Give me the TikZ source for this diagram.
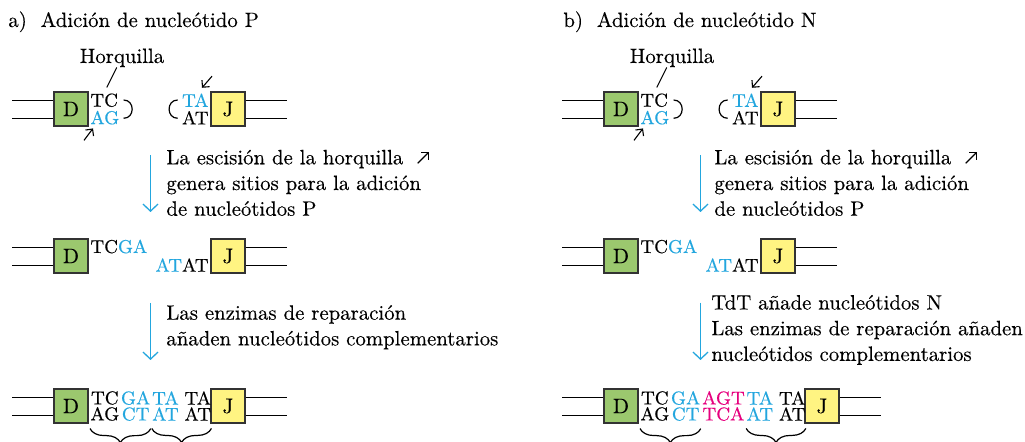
\documentclass[tikz,border=0pt]{standalone}
\usepackage{fontspec}
\setmainfont{Latin Modern Roman}[FakeBold=0.3]
\usetikzlibrary{arrows.meta, positioning, decorations.pathreplacing}
\definecolor{dnablue}{RGB}{35,166,222}
\definecolor{dnapink}{RGB}{230,0,126}
\definecolor{dgreen}{RGB}{155,200,110}
\definecolor{jyellow}{RGB}{255,244,130}

\begin{document}
\begin{tikzpicture}[x=0.5pt, y=-0.5pt,
    seg/.style={draw=black!80, line width=0.65pt, minimum width=17pt, minimum height=17pt, inner sep=0pt, font=\fontsize{10.5}{10.5}\selectfont},
    dseg/.style={seg, fill=dgreen},
    jseg/.style={seg, fill=jyellow},
    strand/.style={line width=0.6pt},
    bases/.style={inner sep=0pt, align=center, font=\fontsize{9.3}{8}\selectfont},
    hbases/.style={bases, align=left, font=\fontsize{9.3}{8.75}\selectfont},
    note/.style={inner sep=0pt, align=left, anchor=north west, font=\fontsize{10.4}{12.85}\selectfont},
    stepline/.style={dnablue, line width=0.65pt, -{Straight Barb[length=3.5pt, width=7.5pt]}},
    cut/.style={line width=0.55pt, -{Straight Barb[length=2.5pt, width=5pt]}},
    pbrace/.style={decorate, decoration={brace, mirror, amplitude=7pt}, line width=0.6pt}]
    \useasboundingbox (0,0) rectangle (1025,442);
    \clip (0,0) rectangle (1025,442);
    % a) Adicion de nucleotido P
    \node[anchor=base west, inner sep=0pt, font=\fontsize{10.4}{12}\selectfont] (titA) at (8,27) {a)~ Adición de nucleótido P};
    \node[anchor=base, inner sep=0pt, font=\fontsize{10.4}{12}\selectfont] (horqA) at (122,63) {Horquilla};
    \node[dseg] (dA1) at (71,109) {D};
    \node[jseg] (jA1) at (228,109) {J};
    \draw[strand] ([yshift=4.25pt]dA1.west) -- ++(-41,0);
    \draw[strand] ([yshift=-4.75pt]dA1.west) -- ++(-41,0);
    \draw[strand] ([yshift=4.25pt]jA1.east) -- ++(41,0);
    \draw[strand] ([yshift=-4.75pt]jA1.east) -- ++(41,0);
    \node[hbases, anchor=west] (hA1) at (90,109) {TC\\\textcolor{dnablue}{AG}};
    \node[hbases, anchor=east] (tA1) at (209,109) {\textcolor{dnablue}{TA}\\AT};
    \draw[line width=0.5pt] ([xshift=-2.6pt]horqA.south) -- ++(-10,20);
    \draw[strand] ([shift={(4,-9)}]hA1.east) to[out=0, in=0, looseness=1.6] ++(0,18.3);
    \draw[strand] ([shift={(-4,-9)}]tA1.west) to[out=180, in=180, looseness=1.6] ++(0,18.3);
    \draw[cut] ([shift={(-6,15.5)}]hA1.south west) -- ++(9,-12);
    \draw[cut] ([shift={(3,-17)}]tA1.north east) -- ++(-10,11.6);
    \coordinate (aA1) at (150.5,155);
    \coordinate (aA2) at (150.5,212);
    \draw[stepline] (aA1) -- (aA2);
    \node[note] (noteA1) at (166,149.4) {La escisión de la horquilla~ \tikz[baseline]\draw[cut] (0pt,0.5pt) -- (5.5pt,6pt);\\genera sitios para la adición\\de nucleótidos P};
    \node[dseg] (dA2) at (71,256) {D};
    \node[jseg] (jA2) at (228,256) {J};
    \draw[strand] ([yshift=4.25pt]dA2.west) -- ++(-41,0);
    \draw[strand] ([yshift=-4.75pt]dA2.west) -- ++(-41,0);
    \draw[strand] ([yshift=4.25pt]jA2.east) -- ++(41,0);
    \draw[strand] ([yshift=-4.75pt]jA2.east) -- ++(41,0);
    \node[bases, anchor=base west] (hA2) at (90,253) {TC\textcolor{dnablue}{GA}};
    \node[bases, anchor=base east] (tA2) at (209,271.7) {\textcolor{dnablue}{AT}AT};
    \coordinate (aA3) at (150.5,303);
    \coordinate (aA4) at (150.5,360);
    \draw[stepline] (aA3) -- (aA4);
    \node[note] (noteA2) at (166,304.8) {Las enzimas de reparación\\añaden nucleótidos complementarios};
    \node[dseg] (dA3) at (71,406) {D};
    \node[jseg] (jA3) at (228,406) {J};
    \draw[strand] ([yshift=4.25pt]dA3.west) -- ++(-41,0);
    \draw[strand] ([yshift=-4.75pt]dA3.west) -- ++(-41,0);
    \draw[strand] ([yshift=4.25pt]jA3.east) -- ++(41,0);
    \draw[strand] ([yshift=-4.75pt]jA3.east) -- ++(41,0);
    \node[bases, anchor=west] (pA1) at (90,406) {TC\\AG};
    \node[bases, right=0.5pt of pA1, text=dnablue] (pA2) {GA\\CT};
    \node[bases, right=0.5pt of pA2, text=dnablue] (pA3) {TA\\AT};
    \node[bases, right=2.5pt of pA3] (pA4) {TA\\AT};
    \draw[pbrace] ([yshift=-3.7pt]pA1.south west) -- ([yshift=-3.7pt]pA2.south east);
    \draw[pbrace] ([yshift=-3.7pt]pA3.south west) -- ([yshift=-3.7pt]pA4.south east);
    % b) Adicion de nucleotido N
    \node[anchor=base west, inner sep=0pt, font=\fontsize{10.4}{12}\selectfont] (titB) at (563,27) {b)~ Adición de nucleótido N};
    \node[anchor=base, inner sep=0pt, font=\fontsize{10.4}{12}\selectfont] (horqB) at (672,63) {Horquilla};
    \node[dseg] (dB1) at (621,109) {D};
    \node[jseg] (jB1) at (778,109) {J};
    \draw[strand] ([yshift=4.25pt]dB1.west) -- ++(-41,0);
    \draw[strand] ([yshift=-4.75pt]dB1.west) -- ++(-41,0);
    \draw[strand] ([yshift=4.25pt]jB1.east) -- ++(41,0);
    \draw[strand] ([yshift=-4.75pt]jB1.east) -- ++(41,0);
    \node[hbases, anchor=west] (hB1) at (640,109) {TC\\\textcolor{dnablue}{AG}};
    \node[hbases, anchor=east] (tB1) at (759,109) {\textcolor{dnablue}{TA}\\AT};
    \draw[line width=0.5pt] ([xshift=-2.6pt]horqB.south) -- ++(-10,20);
    \draw[strand] ([shift={(4,-9)}]hB1.east) to[out=0, in=0, looseness=1.6] ++(0,18.3);
    \draw[strand] ([shift={(-4,-9)}]tB1.west) to[out=180, in=180, looseness=1.6] ++(0,18.3);
    \draw[cut] ([shift={(-6,15.5)}]hB1.south west) -- ++(9,-12);
    \draw[cut] ([shift={(3,-17)}]tB1.north east) -- ++(-10,11.6);
    \coordinate (aB1) at (700.5,155);
    \coordinate (aB2) at (700.5,212);
    \draw[stepline] (aB1) -- (aB2);
    \node[note] (noteB1) at (714,149.4) {La escisión de la horquilla~ \tikz[baseline]\draw[cut] (0pt,0.5pt) -- (5.5pt,6pt);\\genera sitios para la adición\\de nucleótidos P};
    \node[dseg] (dB2) at (621,256) {D};
    \node[jseg] (jB2) at (778,256) {J};
    \draw[strand] ([yshift=4.25pt]dB2.west) -- ++(-41,0);
    \draw[strand] ([yshift=-4.75pt]dB2.west) -- ++(-41,0);
    \draw[strand] ([yshift=4.25pt]jB2.east) -- ++(41,0);
    \draw[strand] ([yshift=-4.75pt]jB2.east) -- ++(41,0);
    \node[bases, anchor=base west] (hB2) at (640,253) {TC\textcolor{dnablue}{GA}};
    \node[bases, anchor=base east] (tB2) at (759,271.7) {\textcolor{dnablue}{AT}AT};
    \coordinate (aB3) at (700.5,302.7);
    \coordinate (aB4) at (700.5,360);
    \draw[stepline] (aB3) -- (aB4);
    \node[note] (noteB2) at (711,294.6) {TdT añade nucleótidos N\\Las enzimas de reparación añaden\\nucleótidos complementarios};
    \node[dseg] (dB3) at (621,406) {D};
    \node[jseg] (jB3) at (822,406) {J};
    \draw[strand] ([yshift=4.25pt]dB3.west) -- ++(-41,0);
    \draw[strand] ([yshift=-4.75pt]dB3.west) -- ++(-41,0);
    \draw[strand] ([yshift=4.25pt]jB3.east) -- ++(41,0);
    \draw[strand] ([yshift=-4.75pt]jB3.east) -- ++(41,0);
    \node[bases, anchor=west] (pB1) at (640,406) {TC\\AG};
    \node[bases, right=0.5pt of pB1, text=dnablue] (pB2) {GA\\CT};
    \node[bases, right=0.5pt of pB2, text=dnapink] (pB3) {AGT\\TCA};
    \node[bases, right=0.5pt of pB3, text=dnablue] (pB4) {TA\\AT};
    \node[bases, right=2.5pt of pB4] (pB5) {TA\\AT};
    \draw[pbrace] ([yshift=-3.7pt]pB1.south west) -- ([yshift=-3.7pt]pB2.south east);
    \draw[pbrace] ([yshift=-3.7pt]pB4.south west) -- ([yshift=-3.7pt]pB5.south east);
\end{tikzpicture}
\end{document}
